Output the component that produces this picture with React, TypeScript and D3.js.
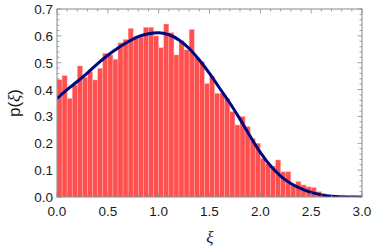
import * as React from "react";
import * as d3 from "d3";
import { useEffect, useRef } from "react";

// histogram heights, one per bin of width 0.05 starting at 0
const binWidth = 0.05;
const binHeights = [
  0.437, 0.452, 0.367, 0.417, 0.488, 0.446, 0.467, 0.436, 0.479, 0.535,
  0.529, 0.513, 0.574, 0.587, 0.628, 0.597, 0.595, 0.632, 0.632, 0.6,
  0.556, 0.644, 0.612, 0.529, 0.582, 0.548, 0.624, 0.52, 0.504, 0.423,
  0.45, 0.386, 0.386, 0.367, 0.318, 0.268, 0.3, 0.262, 0.218, 0.2,
  0.144, 0.125, 0.115, 0.138, 0.094, 0.094, 0.045, 0.057, 0.045, 0.038,
  0.035, 0.02, 0.012, 0.006, 0.003, 0.002, 0.001, 0, 0, 0,
];

// fitted density curve
const curveXi = [
  0, 0.1, 0.2, 0.3, 0.4, 0.5, 0.6, 0.7, 0.8, 0.9, 1.0, 1.1, 1.2, 1.3, 1.4,
  1.5, 1.6, 1.7, 1.8, 1.9, 2.0, 2.1, 2.2, 2.3, 2.4, 2.5, 2.6, 2.7, 2.8, 2.9,
  3.0,
];
const curveP = [
  0.367, 0.4, 0.43, 0.462, 0.497, 0.528, 0.555, 0.578, 0.597, 0.608, 0.612,
  0.604, 0.585, 0.553, 0.51, 0.46, 0.405, 0.35, 0.29, 0.226, 0.166, 0.116,
  0.078, 0.05, 0.031, 0.017, 0.008, 0.003, 0.001, 0.0, 0.0,
];

const xTicks = [0, 0.5, 1, 1.5, 2, 2.5, 3];
const xTickLabels = ["0.0", "0.5", "1.0", "1.5", "2.0", "2.5", "3.0"];
const yTicks = [0, 0.1, 0.2, 0.3, 0.4, 0.5, 0.6, 0.7];
const yTickLabels = ["0.0", "0.1", "0.2", "0.3", "0.4", "0.5", "0.6", "0.7"];

function generateChart(svgRef: React.RefObject<SVGSVGElement>) {
  const svg = d3.select(svgRef.current);
  svg.selectAll("*").remove();

  const width = 374;
  const height = 249;
  const left = 57;
  const right = 362;
  const top = 9;
  const bottom = 197;
  const font = '"Liberation Sans", Arial, sans-serif';
  const frameColor = "#8a8a8a";

  svg.attr("width", width).attr("height", height);

  const x = d3.scaleLinear().domain([0, 3]).range([left, right]);
  const y = d3.scaleLinear().domain([0, 0.7]).range([bottom, top]);

  svg
    .append("defs")
    .append("clipPath")
    .attr("id", "plotclip")
    .append("rect")
    .attr("x", left)
    .attr("y", top)
    .attr("width", right - left)
    .attr("height", bottom - top);

  const plot = svg.append("g").attr("clip-path", "url(#plotclip)");

  // bars
  plot
    .selectAll("rect.bar")
    .data(binHeights)
    .enter()
    .append("rect")
    .attr("class", "bar")
    .attr("x", (d, i) => x(i * binWidth))
    .attr("y", (d) => y(d))
    .attr("width", (d, i) => x((i + 1) * binWidth) - x(i * binWidth))
    .attr("height", (d) => bottom - y(d))
    .attr("fill", "#ff5050")
    .attr("stroke", "rgba(255,190,190,0.7)")
    .attr("stroke-width", 0.6);

  // curve
  const line = d3
    .line<number>()
    .x((d, i) => x(curveXi[i]))
    .y((d) => y(d))
    .curve(d3.curveMonotoneX);

  plot
    .append("path")
    .attr("d", line(curveP)!)
    .attr("fill", "none")
    .attr("stroke", "#00087e")
    .attr("stroke-width", 3);

  // frame
  svg
    .append("rect")
    .attr("x", left)
    .attr("y", top)
    .attr("width", right - left)
    .attr("height", bottom - top)
    .attr("fill", "none")
    .attr("stroke", frameColor)
    .attr("stroke-width", 1);

  const ticks = svg.append("g").attr("stroke", frameColor).attr("stroke-width", 0.8);

  // x ticks, major every 0.5, minor every 0.1
  const xMinor = d3.range(0, 31).map((k) => k / 10);
  xMinor.forEach((v, k) => {
    const len = k % 5 === 0 ? 4.5 : 2.5;
    const px = x(v);
    ticks.append("line").attr("x1", px).attr("x2", px).attr("y1", bottom).attr("y2", bottom - len);
    ticks.append("line").attr("x1", px).attr("x2", px).attr("y1", top).attr("y2", top + len);
  });

  // y ticks, major every 0.1, minor every 0.02
  const yMinor = d3.range(0, 36).map((k) => k / 50);
  yMinor.forEach((v, k) => {
    const len = k % 5 === 0 ? 4.5 : 2.5;
    const py = y(v);
    ticks.append("line").attr("x1", left).attr("x2", left + len).attr("y1", py).attr("y2", py);
    ticks.append("line").attr("x1", right).attr("x2", right - len).attr("y1", py).attr("y2", py);
  });

  // tick labels
  svg
    .selectAll("text.xl")
    .data(xTicks)
    .enter()
    .append("text")
    .attr("class", "xl")
    .attr("x", (d) => x(d))
    .attr("y", 216)
    .attr("text-anchor", "middle")
    .attr("font-family", font)
    .attr("font-size", 13.5)
    .attr("fill", "#1a1a1a")
    .text((d, i) => xTickLabels[i]);

  svg
    .selectAll("text.yl")
    .data(yTicks)
    .enter()
    .append("text")
    .attr("class", "yl")
    .attr("x", 53)
    .attr("y", (d) => y(d) + 5)
    .attr("text-anchor", "end")
    .attr("font-family", font)
    .attr("font-size", 13.5)
    .attr("fill", "#1a1a1a")
    .text((d, i) => yTickLabels[i]);

  // axis titles
  svg
    .append("text")
    .attr("x", 210)
    .attr("y", 243)
    .attr("text-anchor", "middle")
    .attr("font-family", '"Liberation Serif", "DejaVu Serif", serif')
    .attr("font-style", "italic")
    .attr("font-size", 17)
    .attr("fill", "#1a1a1a")
    .text("ξ");

  const yTitle = svg
    .append("text")
    .attr("transform", "translate(20, 103) rotate(-90)")
    .attr("text-anchor", "middle")
    .attr("font-family", font)
    .attr("font-size", 17)
    .attr("fill", "#1a1a1a");
  yTitle.append("tspan").text("p(");
  yTitle
    .append("tspan")
    .attr("font-family", '"Liberation Serif", "DejaVu Serif", serif')
    .attr("font-style", "italic")
    .text("ξ");
  yTitle.append("tspan").text(")");
}

export default function App() {
  const svg = useRef<SVGSVGElement>(null);
  useEffect(() => {
    generateChart(svg);
  }, []);
  return (
    <div style={{ position: "absolute", left: 0, top: 0 }}>
      <svg ref={svg} style={{ display: "block" }} />
    </div>
  );
}
